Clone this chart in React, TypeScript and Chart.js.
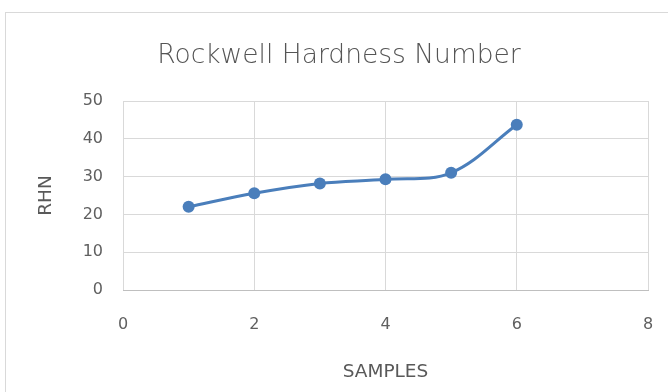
import React, { useEffect, useRef } from "react";
import { Chart, registerables } from "chart.js";

Chart.register(...registerables);

const samples = [1, 2, 3, 4, 5, 6];
const rhnValues = [22.0, 25.6, 28.2, 29.3, 31.0, 43.7];
const xTicks = [0, 2, 4, 6, 8];
const yTicks = [0, 10, 20, 30, 40, 50];

const W = 668;
const H = 392;

const borderPlugin = {
  id: "outerBorder",
  beforeDraw(chart: any) {
    const ctx = chart.ctx;
    ctx.save();
    ctx.fillStyle = "#ffffff";
    ctx.fillRect(0, 0, W, H);
    ctx.strokeStyle = "#d9d9d9";
    ctx.lineWidth = 1;
    ctx.strokeRect(5.5, 12.5, W + 10, H);
    ctx.restore();
  },
};

export default function App() {
  const ref = useRef<HTMLCanvasElement | null>(null);

  useEffect(() => {
    document.body.style.margin = "0";
    const canvas = ref.current;
    if (!canvas) return;
    const chart = new Chart(canvas, {
      type: "line",
      data: {
        datasets: [
          {
            label: "RHN",
            data: samples.map((s, i) => ({ x: s, y: rhnValues[i] })),
            borderColor: "#4a7ebb",
            backgroundColor: "#4a7ebb",
            borderWidth: 3,
            pointRadius: 6,
            pointHoverRadius: 6,
            pointBorderWidth: 0,
            tension: 0.35,
            fill: false,
          },
        ],
      },
      options: {
        responsive: false,
        animation: false,
        layout: { padding: { left: 30, right: 20, top: 0, bottom: 0 } },
        plugins: {
          legend: { display: false },
          tooltip: { enabled: false },
          title: {
            display: true,
            text: "Rockwell Hardness Number",
            color: "#555555",
            font: { family: "DejaVu Sans", size: 26.5, weight: "200", lineHeight: 1.2 },
            padding: { top: 40.6, bottom: 28.6 },
          },
        },
        scales: {
          x: {
            type: "linear",
            min: 0,
            max: 8,
            afterBuildTicks: (scale: any) => {
              scale.ticks = xTicks.map((v) => ({ value: v }));
            },
            afterFit: (scale: any) => {
              scale.height = 102;
            },
            grid: {
              color: "#d9d9d9",
              drawTicks: true,
              tickLength: 22,
              tickColor: "rgba(0,0,0,0)",
              lineWidth: 1,
            },
            border: { display: true, color: "#bfbfbf" },
            ticks: {
              color: "#606060",
              font: { family: "DejaVu Sans", size: 16 },
              padding: 3,
            },
            title: {
              display: true,
              text: "SAMPLES",
              color: "#595959",
              font: { family: "DejaVu Sans", size: 18.5 },
              padding: { top: 0, bottom: 8.9 },
            },
          },
          y: {
            type: "linear",
            min: 0,
            max: 50,
            afterBuildTicks: (scale: any) => {
              scale.ticks = yTicks.map((v) => ({ value: v }));
            },
            afterFit: (scale: any) => {
              scale.width = 93;
            },
            grid: { color: "#d9d9d9", drawTicks: false, lineWidth: 1 },
            border: { display: false },
            ticks: {
              color: "#606060",
              font: { family: "DejaVu Sans", size: 16 },
              padding: 20,
            },
            title: {
              display: true,
              text: "RHN",
              color: "#595959",
              font: { family: "DejaVu Sans", size: 18.5 },
              padding: { top: 5, bottom: 0 },
            },
          },
        },
      },
      plugins: [borderPlugin],
    });
    return () => chart.destroy();
  }, []);

  return (
    <div style={{ width: W, height: H }}>
      <canvas ref={ref} width={W} height={H} style={{ display: "block" }} />
    </div>
  );
}
